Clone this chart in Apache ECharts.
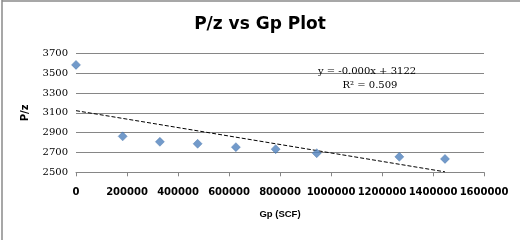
<!DOCTYPE html>
<html>
<head>
<meta charset="utf-8">
<script src="https://cdn.jsdelivr.net/npm/echarts@6/dist/echarts.min.js"></script>
<style>
  html, body { margin: 0; padding: 0; background: #fff; }
  #chart { width: 520px; height: 240px; }
</style>
</head>
<body>
<div id="chart"></div>
<script>
// cumulative gas produced (SCF) and P/z
const gp = [0, 183000, 329000, 477000, 627000, 783000, 944000, 1268000, 1447000]
const pz = [3585, 2863, 2808, 2788, 2754, 2734, 2693, 2656, 2635]
const eqLines = ['y = -0.000x + 3122', 'R\u00b2 = 0.509']

// least squares trendline over the points
function fit(xs, ys) {
  const n = xs.length
  const mx = xs.reduce((a, b) => a + b, 0) / n
  const my = ys.reduce((a, b) => a + b, 0) / n
  let sxy = 0, sxx = 0
  for (let i = 0; i < n; i++) {
    sxy += (xs[i] - mx) * (ys[i] - my)
    sxx += (xs[i] - mx) * (xs[i] - mx)
  }
  const slope = sxy / sxx
  return { slope, intercept: my - slope * mx }
}

const reg = fit(gp, pz)
const xLo = Math.min(...gp)
const xHi = Math.max(...gp)
const trend = [
  [xLo, reg.intercept + reg.slope * xLo],
  [xHi, reg.intercept + reg.slope * xHi]
]

const plain = v => String(v)

const chart = echarts.init(document.getElementById('chart'))
chart.setOption({
  animation: false,
  title: {
    text: 'P/z vs Gp Plot',
    left: 'center',
    top: 11,
    textStyle: { fontFamily: 'DejaVu Sans', fontWeight: 'bold', fontSize: 17, color: '#000' }
  },
  grid: { left: 76, right: 36, top: 53.5, bottom: 67.7 },
  xAxis: {
    type: 'value',
    min: 0,
    max: 1600000,
    interval: 200000,
    name: 'Gp (SCF)',
    nameLocation: 'middle',
    nameGap: 37,
    nameTextStyle: { fontFamily: 'Liberation Sans', fontWeight: 'bold', fontSize: 9.5, color: '#000' },
    axisLine: { show: true, lineStyle: { color: '#868686', width: 1 } },
    axisTick: { show: true, length: 4, lineStyle: { color: '#868686' } },
    axisLabel: {
      margin: 15, formatter: plain, hideOverlap: false, showMinLabel: true, showMaxLabel: true,
      fontFamily: 'DejaVu Sans', fontWeight: 'bold', fontSize: 10, color: '#000'
    },
    splitLine: { show: false }
  },
  yAxis: {
    type: 'value',
    min: 2500,
    max: 3700,
    interval: 200,
    name: 'P/z',
    nameLocation: 'middle',
    nameGap: 46,
    nameRotate: 90,
    nameTextStyle: { fontFamily: 'DejaVu Sans', fontWeight: 'bold', fontSize: 10, color: '#000' },
    axisLine: { show: false },
    axisTick: { show: false },
    axisLabel: { margin: 8, formatter: plain, fontFamily: 'DejaVu Serif', fontSize: 10, color: '#000' },
    splitLine: { show: true, lineStyle: { color: '#868686', width: 1 } }
  },
  series: [
    {
      type: 'scatter',
      symbol: 'diamond',
      symbolSize: 9,
      itemStyle: { color: '#4F81BD', borderColor: '#3f6fa8', borderWidth: 0.5 },
      data: gp.map((x, i) => [x, pz[i]]),
      z: 3
    },
    {
      type: 'line',
      symbol: 'none',
      lineStyle: { color: '#000', width: 1, type: [4, 2] },
      data: trend,
      z: 2
    }
  ],
  graphic: [
    { type: 'line', shape: { x1: 2, y1: 0, x2: 2, y2: 240 }, style: { stroke: '#8a8a8a', lineWidth: 1.5 } },
    { type: 'line', shape: { x1: 2, y1: 1, x2: 520, y2: 1 }, style: { stroke: '#8a8a8a', lineWidth: 1.5 } },
    {
      type: 'text', x: 367, y: 71.5, z: 10,
      style: { text: eqLines[0], fontFamily: 'DejaVu Serif', fontSize: 10, fill: '#000', textAlign: 'center', textVerticalAlign: 'middle' }
    },
    {
      type: 'text', x: 370, y: 85.5, z: 10,
      style: { text: eqLines[1], fontFamily: 'DejaVu Serif', fontSize: 10, fill: '#000', textAlign: 'center', textVerticalAlign: 'middle' }
    }
  ]
})
</script>
</body>
</html>
